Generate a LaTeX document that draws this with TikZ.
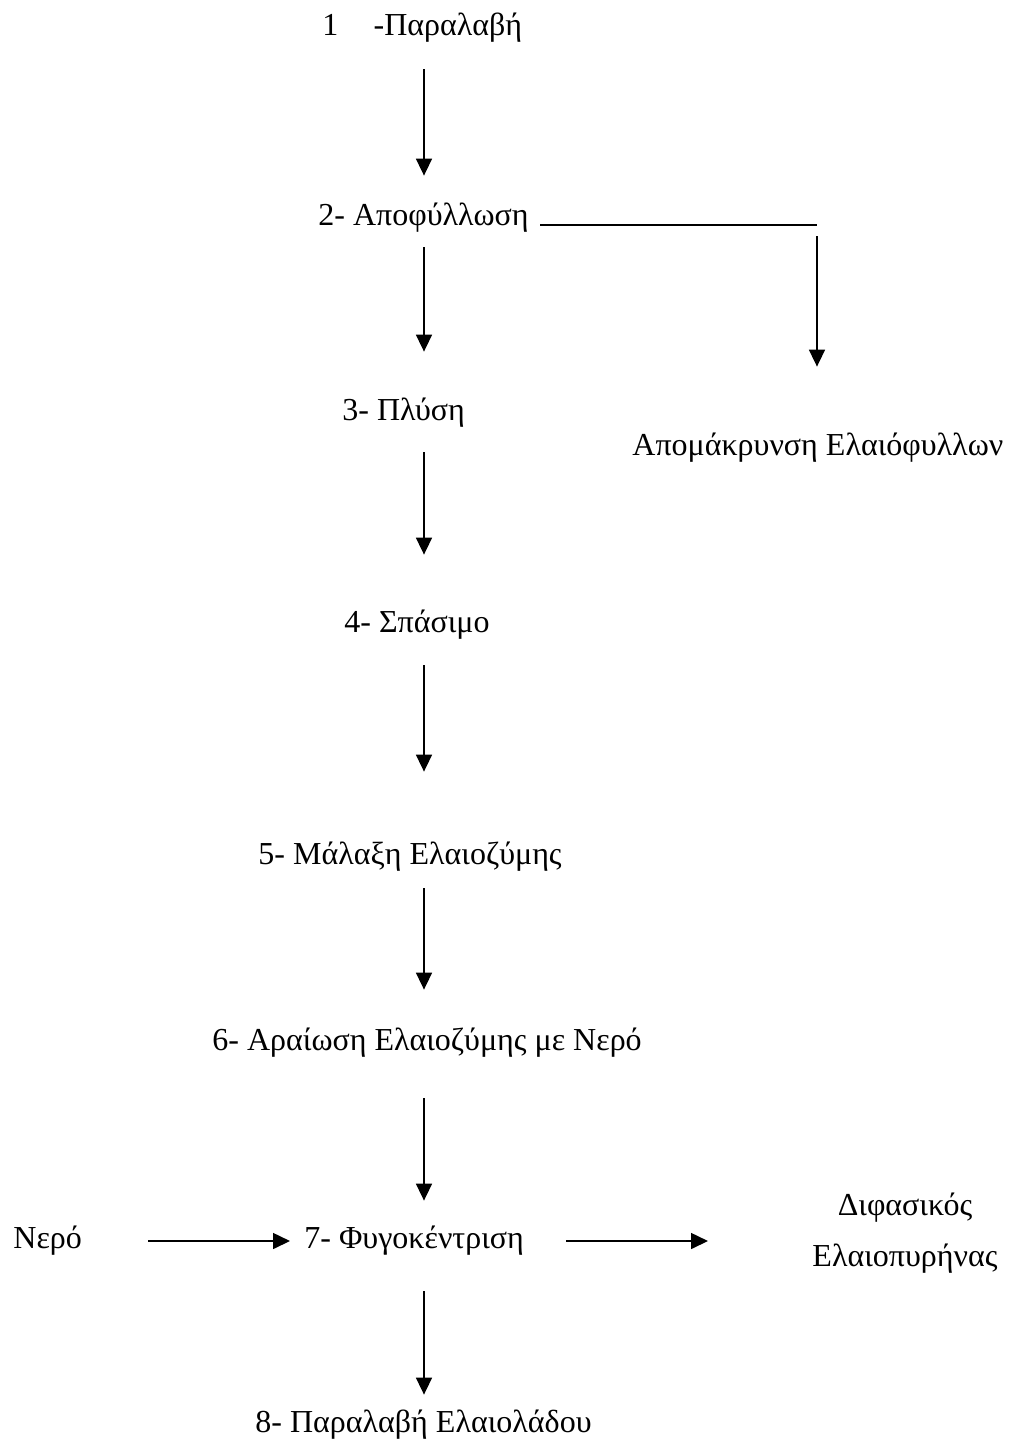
\documentclass[tikz,border=0pt]{standalone}
\usepackage{fontspec}
\setmainfont{Liberation Serif}
\usetikzlibrary{arrows.meta}

\begin{document}
\begin{tikzpicture}[x=0.5pt,y=-0.5pt,
  stage/.style={anchor=base west,inner sep=0pt,text height=11pt,text depth=4pt,
    font=\fontsize{16pt}{19pt}\selectfont},
  flow/.style={line width=0.8pt,-{Triangle[length=8.5pt,width=8pt]}}]
  \useasboundingbox (0,0) rectangle (1011,1448);
  \coordinate (spine) at (424,0);
  \coordinate (bendx) at (817,0);
  \coordinate (tipx) at (708,0);
  \node[stage] (n1) at (322,35) {1\hspace{1.1em}-Παραλαβή};
  \node[stage] (n2) at (318,225) {2- Αποφύλλωση};
  \node[stage] (n3) at (342,420) {3- Πλύση};
  \node[stage] (leaves) at (632,455) {Απομάκρυνση Ελαιόφυλλων};
  \node[stage] (n4) at (344,632) {4- Σπάσιμο};
  \node[stage] (n5) at (258,864) {5- Μάλαξη Ελαιοζύμης};
  \node[stage] (n6) at (212,1050) {6- Αραίωση Ελαιοζύμης με Νερό};
  \node[stage] (water) at (13,1248) {Νερό};
  \node[stage] (n7) at (304,1248) {7- Φυγοκέντριση};
  \node[stage,anchor=center,align=center,text height=,text depth=,
    font=\fontsize{16pt}{25.5pt}\selectfont] (pomace) at (905,1233)
    {Διφασικός\\Ελαιοπυρήνας};
  \node[stage] (n8) at (255,1432) {8- Παραλαβή Ελαιολάδου};
  \coordinate (bend) at (n2.base east -| bendx);

  \path[flow] (n1.south -| spine) edge[shorten <=13pt,shorten >=13.5pt] (n2.north -| spine);
  \path[flow] (n2.south -| spine) edge[shorten <=7pt,shorten >=23pt] (n3.north -| spine);
  \path[flow] (n3.south -| spine) edge[shorten <=12pt,shorten >=27.5pt] (n4.north -| spine);
  \path[flow] (n4.south -| spine) edge[shorten <=12.5pt,shorten >=35pt] (n5.north -| spine);
  \path[flow] (n5.south -| spine) edge[shorten <=8pt,shorten >=19pt] (n6.north -| spine);
  \path[flow] (n6.south -| spine) edge[shorten <=20pt,shorten >=12.5pt] (n7.north -| spine);
  \path[flow] (n7.south -| spine) edge[shorten <=17.5pt,shorten >=7.5pt] (n8.north -| spine);
  \draw[line width=0.8pt] (n2.base east) ++(11,0) -- (bend);
  \path[flow] (bend) edge[shorten <=5.5pt,shorten >=33pt] (bend |- leaves.north);
  \path[flow] (water) edge[shorten <=33pt,shorten >=7pt] (n7);
  \path[flow] (n7.east) edge[shorten <=21pt] (n7.east -| tipx);
\end{tikzpicture}
\end{document}
